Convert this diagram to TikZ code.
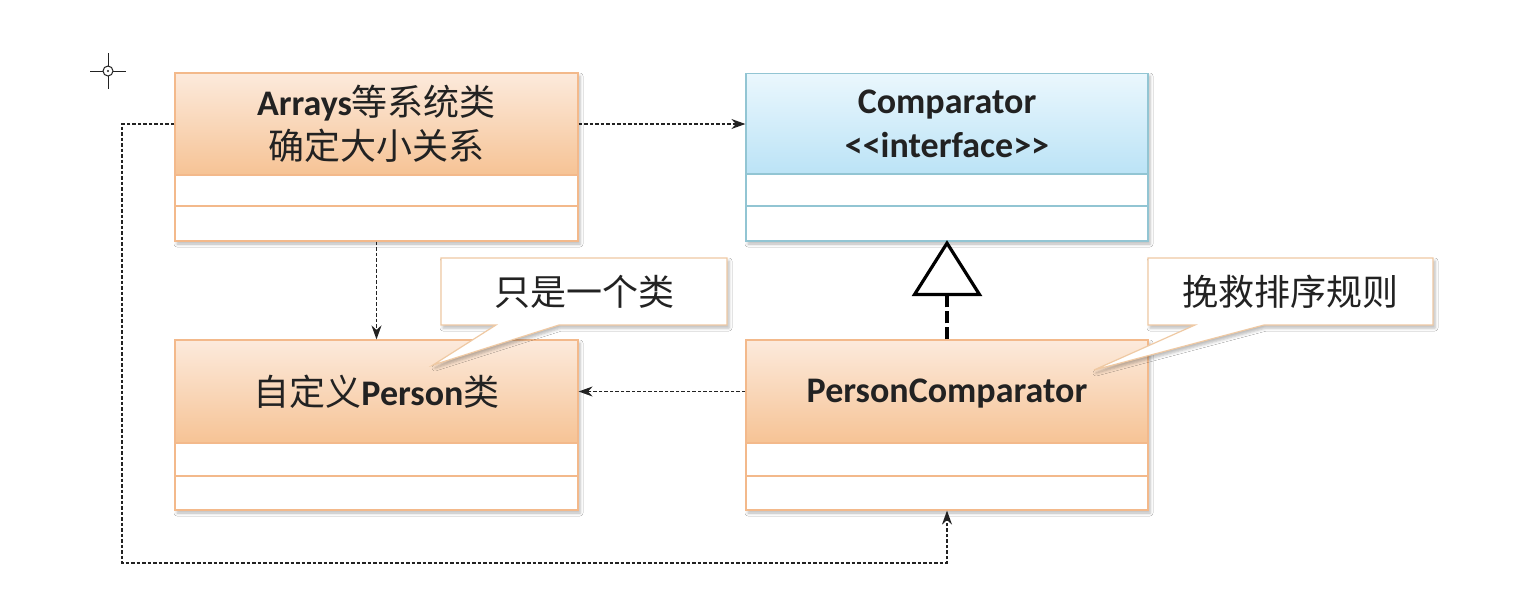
\documentclass[tikz,border=0pt]{standalone}
\usepackage{fontspec}
\setmainfont{Carlito}
\newfontfamily\cjk{Noto Sans CJK SC}
\usetikzlibrary{arrows.meta,shadows.blur}
\newcommand{\zh}[1]{{\cjk\mdseries #1}}
\definecolor{topO}{HTML}{FCEADC}
\definecolor{botO}{HTML}{F6C395}
\definecolor{lineO}{HTML}{F3B98B}
\definecolor{topB}{HTML}{EAF7FD}
\definecolor{botB}{HTML}{BBE3F6}
\definecolor{lineB}{HTML}{92C5D3}
\definecolor{callO}{HTML}{EFC9A3}
\definecolor{ink}{HTML}{222222}
\tikzset{
  softshadow/.style={blur shadow={shadow xshift=2pt, shadow yshift=-3pt, shadow blur radius=3pt, shadow opacity=28}},
  hdrO/.style={draw=lineO, line width=1.2pt, top color=topO, bottom color=botO, minimum width=403pt, inner sep=0pt, align=center, text=ink, font=\bfseries\fontsize{36}{44}\selectfont},
  hdrB/.style={hdrO, draw=lineB, top color=topB, bottom color=botB},
  cmpO/.style={draw=lineO, line width=1.2pt, fill=white, minimum width=403pt, inner sep=0pt},
  cmpB/.style={cmpO, draw=lineB},
  callout/.style={draw=callO, line width=1.2pt, fill=white, softshadow},
  calltext/.style={text=ink, inner sep=0pt, font=\fontsize{36}{40}\selectfont\cjk},
  dep/.style={draw=ink, line width=1.5pt, dash pattern=on 3.5pt off 2pt, -{Stealth[length=14pt,width=10pt]}},
  impl/.style={draw=black, line width=3.2pt, dash pattern=on 12pt off 4pt, -{Triangle[open, length=56pt, width=70pt, line width=3.2pt]}},
  crossmark/.style={draw=ink, line width=1pt}
}
\begin{document}
\begin{tikzpicture}[x=1pt,y=-1pt]
\fill[white] (0,0) rectangle (1522,600);
\useasboundingbox (0,0) rectangle (1522,600);

% class shadows
\path[softshadow, fill=white] (175,73) rectangle (578,241);
\path[softshadow, fill=white] (746,73) rectangle (1148,241);
\path[softshadow, fill=white] (175,340) rectangle (578,510);
\path[softshadow, fill=white] (746,340) rectangle (1148,510);

% Arrays
\node[hdrO, minimum height=102pt] (arrH) at (376.5,124) {Arrays\zh{等系统类}\\\zh{确定大小关系}};
\node[cmpO, minimum height=31pt] (arrA) at (376.5,190.5) {};
\node[cmpO, minimum height=35pt] (arrB) at (376.5,223.5) {};

% Comparator
\node[hdrB, minimum height=101pt, minimum width=402pt] (cmpH) at (947,124) {Comparator\\<\kern0pt<interface>\kern0pt>};
\node[cmpB, minimum height=32pt, minimum width=402pt] (cmpA) at (947,190) {};
\node[cmpB, minimum height=35pt, minimum width=402pt] (cmpC) at (947,223.5) {};

% Person
\node[hdrO, minimum height=103pt] (perH) at (376.5,391.5) {\zh{自定义}Person\zh{类}};
\node[cmpO, minimum height=33pt] (perA) at (376.5,459.5) {};
\node[cmpO, minimum height=34pt] (perB) at (376.5,493) {};

% PersonComparator
\node[hdrO, minimum height=103pt, minimum width=402pt] (pcH) at (947,391.5) {\raisebox{-5pt}[18pt][6pt]{PersonComparator}};
\node[cmpO, minimum height=33pt, minimum width=402pt] (pcA) at (947,459.5) {};
\node[cmpO, minimum height=34pt, minimum width=402pt] (pcB) at (947,493) {};

% connectors
\draw[dep] (arrH.east) -- (cmpH.west);
\draw[dep] (arrB.south) -- (perH.north);
\draw[dep] (pcH.west) -- (perH.east);
\coordinate (l1) at (122,124);
\coordinate (l2) at (122,563);
\draw[dep] (arrH.west) -- (l1) -- (l2) -| (pcB.south);
\draw[impl] (pcH.north) -- ([yshift=1.5pt]cmpC.south);

% callouts
\path[callout] (441,258) -- (727,258) -- (727,325) -- (559,325) -- (433,365) -- (496,325) -- (441,325) -- cycle;
\node[calltext] (c1) at (584,291.5) {只是一个类};
\path[callout] (1148,258) -- (1433,258) -- (1433,325) -- (1264,325) -- (1094,370) -- (1195,325) -- (1148,325) -- cycle;
\node[calltext] (c2) at (1290.5,291.5) {挽救排序规则};

% crosshair mark
\coordinate (xm) at (108,71);
\draw[crossmark] (xm) circle (5pt);
\fill[ink] (xm) circle (1.2pt);
\draw[crossmark] ([xshift=-18pt]xm) -- ([xshift=-5pt]xm);
\draw[crossmark] ([xshift=5pt]xm) -- ([xshift=18pt]xm);
\draw[crossmark] ([yshift=18pt]xm) -- ([yshift=5pt]xm);
\draw[crossmark] ([yshift=-5pt]xm) -- ([yshift=-18pt]xm);
\end{tikzpicture}
\end{document}
